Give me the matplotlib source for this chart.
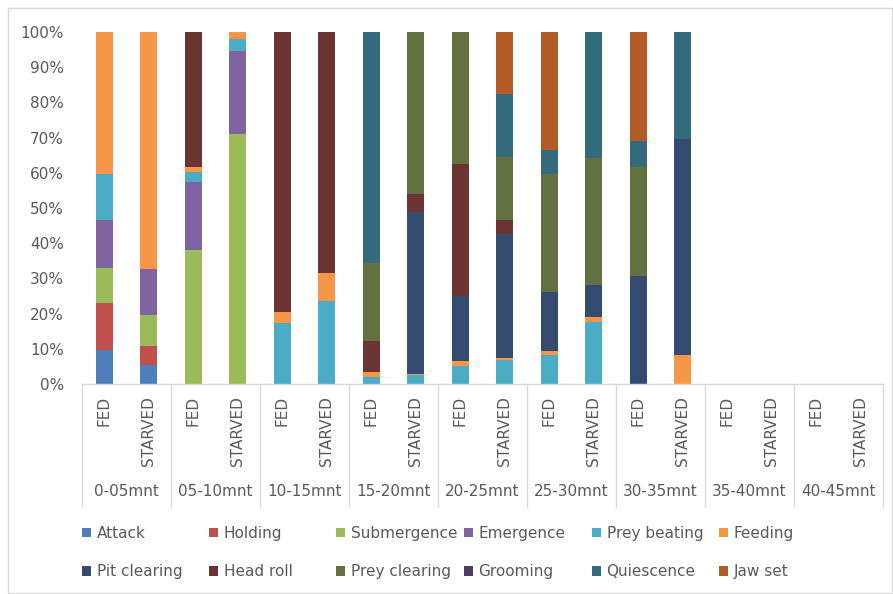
import matplotlib
matplotlib.use("Agg")
import matplotlib.pyplot as plt
from matplotlib.patches import Rectangle
from matplotlib.transforms import blended_transform_factory
import numpy as np

plt.rcParams['font.family'] = ['DejaVu Sans']

groups = ["0-05mnt", "05-10mnt", "10-15mnt", "15-20mnt", "20-25mnt",
          "25-30mnt", "30-35mnt", "35-40mnt", "40-45mnt"]
conditions = ["FED", "STARVED"]

behaviours = ["Attack", "Holding", "Submergence", "Emergence", "Prey beating", "Feeding",
              "Pit clearing", "Head roll", "Prey clearing", "Grooming", "Quiescence", "Jaw set"]
colors = ["#4F7FBB", "#C0504D", "#9BBB59", "#8064A2", "#4BACC6", "#F79646",
          "#344B70", "#6B3331", "#637140", "#4D3B62", "#336B7D", "#B25B26"]

# percentages per bar (FED, STARVED for each time window), in order of behaviours
attack        = [9.7, 5.5, 0, 0, 0, 0, 0, 0, 0, 0, 0, 0, 0, 0, 0, 0, 0, 0]
holding       = [13.4, 5.4, 0, 0, 0, 0, 0, 0, 0, 0, 0, 0, 0, 0, 0, 0, 0, 0]
submergence   = [9.9, 8.7, 38.1, 71.0, 0, 0, 0, 0, 0, 0, 0, 0, 0, 0, 0, 0, 0, 0]
emergence     = [13.6, 13.0, 19.4, 23.5, 0, 0, 0, 0, 0, 0, 0, 0, 0, 0, 0, 0, 0, 0]
prey_beating  = [13.1, 0, 2.7, 3.6, 17.2, 23.6, 1.9, 2.5, 5.1, 6.8, 8.2, 17.7, 0, 0, 0, 0, 0, 0]
feeding       = [40.3, 67.4, 1.4, 1.9, 3.2, 8.0, 1.4, 0.4, 1.3, 0.5, 1.3, 1.4, 0, 8.2, 0, 0, 0, 0]
pit_clearing  = [0, 0, 0, 0, 0, 0, 0, 46.0, 18.5, 35.2, 16.7, 9.0, 30.8, 61.4, 0, 0, 0, 0]
head_roll     = [0, 0, 38.4, 0, 79.6, 68.4, 8.9, 5.0, 37.5, 4.1, 0, 0, 0, 0, 0, 0, 0, 0]
prey_clearing = [0, 0, 0, 0, 0, 0, 22.1, 46.1, 37.6, 18.0, 33.5, 36.2, 30.8, 0, 0, 0, 0, 0]
grooming      = [0, 0, 0, 0, 0, 0, 0, 0, 0, 0, 0, 0, 0, 0, 0, 0, 0, 0]
quiescence    = [0, 0, 0, 0, 0, 0, 65.7, 0, 0, 17.7, 6.8, 35.7, 7.5, 30.4, 0, 0, 0, 0]
jaw_set       = [0, 0, 0, 0, 0, 0, 0, 0, 0, 17.7, 33.5, 0, 30.9, 0, 0, 0, 0, 0]

series = [attack, holding, submergence, emergence, prey_beating, feeding,
          pit_clearing, head_roll, prey_clearing, grooming, quiescence, jaw_set]

W, H = 893, 594
fig = plt.figure(figsize=(W / 100, H / 100), dpi=100)
fig.patches.append(Rectangle((8 / W, 1 / H), (W - 9) / W, (H - 9) / H,
                             transform=fig.transFigure, fill=False,
                             edgecolor="#D9D9D9", linewidth=1))

ax = fig.add_axes([82 / W, 1 - 384 / H, (883 - 82) / W, (384 - 32) / H])
n = len(groups) * len(conditions)
x = np.arange(n)
bottom = np.zeros(n)
handles = []
for name, vals, col in zip(behaviours, series, colors):
    v = np.array(vals, dtype=float)
    b = ax.bar(x, v, 0.38, bottom=bottom, color=col, label=name, linewidth=0)
    handles.append(b)
    bottom += v

ax.set_xlim(-0.5, n - 0.5)
ax.set_ylim(0, 100)
ax.set_yticks(np.arange(0, 101, 10))
ax.set_yticklabels([f"{t}%" for t in range(0, 101, 10)])
ax.tick_params(axis="y", length=0, pad=13, labelsize=11, labelcolor="#595959")
ax.set_xticks([])
for s in ["top", "right", "left"]:
    ax.spines[s].set_visible(False)
ax.spines["bottom"].set_color("#D9D9D9")
ax.spines["bottom"].set_linewidth(1)

tr = blended_transform_factory(ax.transData, ax.transAxes)
sep_bottom = -(507 - 384) / 352
for k in range(len(groups) + 1):
    xs = -0.5 + 2 * k
    ax.plot([xs, xs], [0, sep_bottom], transform=tr, color="#D9D9D9",
            linewidth=1, clip_on=False)

for i in range(n):
    ax.text(i, -(396 - 384) / 352, conditions[i % 2], transform=tr, rotation=90,
            ha="center", va="top", fontsize=11, color="#595959")
for g, name in enumerate(groups):
    ax.text(2 * g + 0.5, -(492 - 384) / 352, name, transform=tr,
            ha="center", va="center", fontsize=11, color="#595959")

# legend: 2 rows x 6 equal-width columns, one legend per column
col_x = [82, 209, 336, 464, 592, 719]
for c in range(6):
    idx = [c, c + 6]
    fig.legend([handles[i] for i in idx], [behaviours[i] for i in idx],
               ncol=1, loc="upper left",
               bbox_to_anchor=(col_x[c] / W, 1 - 526 / H),
               frameon=False, fontsize=11, handlelength=0.6, handleheight=0.6,
               handletextpad=0.35, labelspacing=1.52, borderpad=0,
               borderaxespad=0, labelcolor="#595959")

fig.savefig("out.png", dpi=100)
